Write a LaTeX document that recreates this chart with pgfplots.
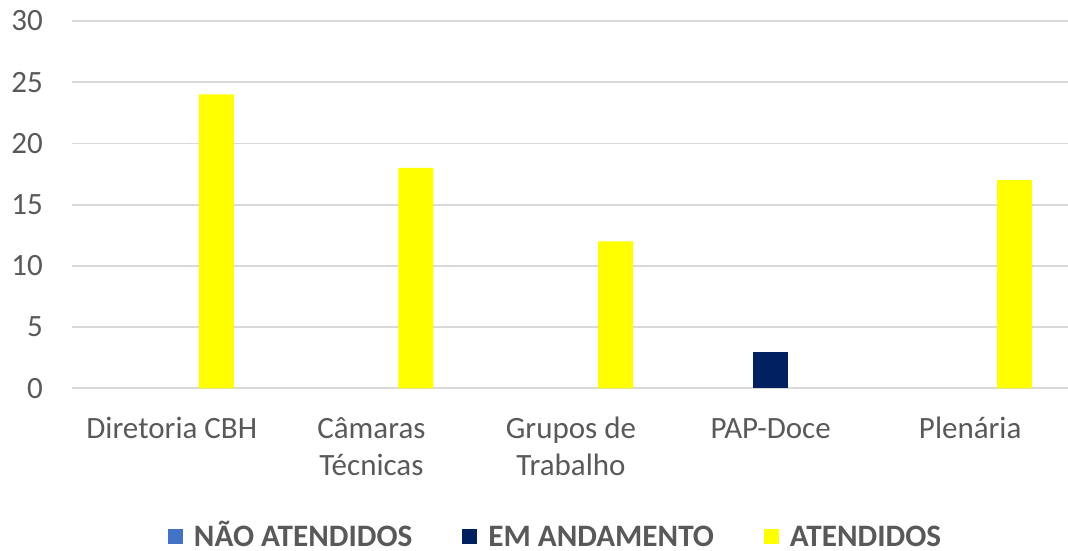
\documentclass[border=0pt]{standalone}
\usepackage{pgfplots}
\pgfplotsset{compat=1.18}
\usetikzlibrary{calc}
\usepackage{fontspec}
\setmainfont{Carlito}
\definecolor{txt}{HTML}{595959}
\definecolor{grd}{HTML}{D9D9D9}
\definecolor{cblue}{HTML}{4472C4}
\definecolor{cnavy}{HTML}{002060}
\definecolor{cyel}{HTML}{FFFF00}
\begin{document}
\begin{tikzpicture}
\begin{axis}[
  scale only axis,
  width=996pt, height=367.3pt,
  xmin=-0.5, xmax=4.49,
  ymin=0, ymax=30,
  ytick={0,5,...,30},
  xtick={0,1,2,3,4},
  xticklabels={\strut Diretoria CBH, {\strut Câmaras\\Técnicas}, {\strut Grupos de\\Trabalho}, \strut PAP-Doce, \strut Plenária},
  ybar, bar width=35pt,
  axis line style={draw=none},
  major tick length=0pt,
  ymajorgrids, grid style={grd, line width=1.8pt},
  clip=false,
  /pgf/number format/assume math mode=true,
  ticklabel style={font=\fontsize{31}{37}\selectfont, text=txt},
  yticklabel style={inner sep=0pt, anchor=east, xshift=-29pt},
  xticklabel style={inner sep=0pt, anchor=north, align=center, yshift=-24.5pt},
  legend columns=3,
  legend style={draw=none, at={(0.4845,-0.398)}, anchor=center,
    font=\bfseries\fontsize{31.2}{36}\selectfont, text=txt,
    /tikz/every odd column/.append style={column sep=11pt},
    /tikz/every even column/.append style={column sep=50pt},
    nodes={inner sep=0pt, anchor=base west}},
  legend image code/.code={\fill[#1] (0pt,2.5pt) rectangle (15pt,17.5pt);},
]
\addlegendimage{fill=cblue, draw=none}
\addplot[fill=cblue, draw=none, forget plot, bar shift=-44.5pt, y filter/.expression={y==0 ? nan : y}] coordinates {(0,0) (1,0) (2,0) (3,0) (4,0)};
\addplot[fill=cnavy, draw=none, bar shift=0pt, y filter/.expression={y==0 ? nan : y}] coordinates {(0,0) (1,0) (2,0) (3,3) (4,0)};
\addplot[fill=cyel, draw=none, bar shift=44.5pt, y filter/.expression={y==0 ? nan : y}] coordinates {(0,24) (1,18) (2,12) (3,0) (4,17)};
\legend{NÃO ATENDIDOS, EM ANDAMENTO, ATENDIDOS}
\coordinate (sw) at (rel axis cs:0,0);
\end{axis}
\pgfresetboundingbox
\path[use as bounding box] ($(sw)+(-72pt,-162.7pt)$) rectangle ($(sw)+(996pt,388.3pt)$);
\end{tikzpicture}
\end{document}
